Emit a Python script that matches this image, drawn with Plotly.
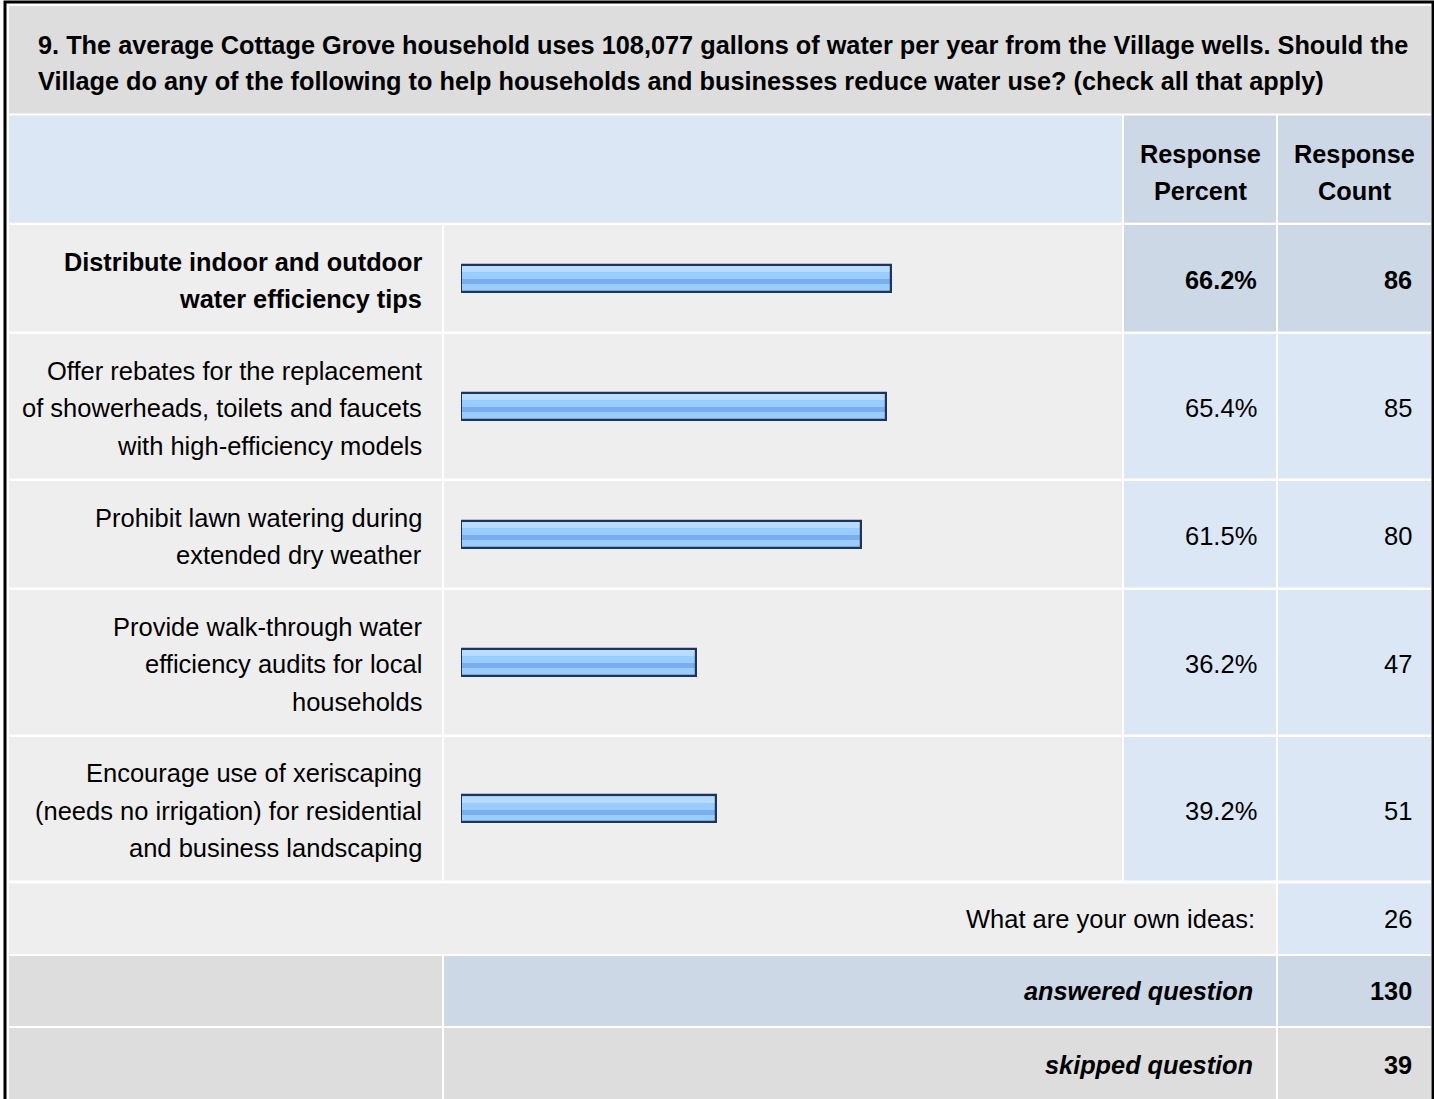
import plotly.graph_objects as go

# ---------------- data ----------------
question = ["9. The average Cottage Grove household uses 108,077 gallons of water per year from the Village wells. Should the",
            "Village do any of the following to help households and businesses reduce water use? (check all that apply)"]
header_pct = ["Response", "Percent"]
header_cnt = ["Response", "Count"]
answer_labels = [
    ["Distribute indoor and outdoor", "water efficiency tips"],
    ["Offer rebates for the replacement", "of showerheads, toilets and faucets", "with high-efficiency models"],
    ["Prohibit lawn watering during", "extended dry weather"],
    ["Provide walk-through water", "efficiency audits for local", "households"],
    ["Encourage use of xeriscaping", "(needs no irrigation) for residential", "and business landscaping"],
]
response_percent = [66.2, 65.4, 61.5, 36.2, 39.2]
response_count = [86, 85, 80, 47, 51]
other_label = "What are your own ideas:"
other_count = 26
answered_label = "answered question"
answered_count = 130
skipped_label = "skipped question"
skipped_count = 39

# ---------------- layout constants ----------------
W, H = 1434, 1099
FONT = "Liberation Sans, Arial, Helvetica, sans-serif"
FS = 25.5
FSB = 25.3
LINE = 37.3
GRAY = "#DDDDDD"
LIGHT = "#EEEEEE"
BLUE1 = "#DCE7F5"
BLUE2 = "#CCD8E6"

C0 = (9, 442)
C1 = (444, 1122)
C2 = (1124, 1276)
C3 = (1278, 1431)

title_row = (6, 113.5)
header_row = (115.5, 222.7)
answer_rows = [(225, 331.5), (334, 478.5), (481, 587.5), (590, 734.5), (737, 880.5)]
other_row = (883.5, 954)
answered_row = (956, 1026)
skipped_row = (1028, 1110)

BAR_X0, BAR_X1 = 461, 1111  # pixel extent of 0..100 %
BAR_T = 29

shapes = []


def cell(x, y, color):
    shapes.append(dict(type="rect", xref="x", yref="y", x0=x[0], x1=x[1], y0=y[0], y1=y[1],
                       fillcolor=color, line=dict(width=0), layer="below"))


cell((C0[0], C3[1]), title_row, GRAY)
cell((C0[0], C1[1]), header_row, BLUE1)
cell(C2, header_row, BLUE2)
cell(C3, header_row, BLUE2)
top = max(response_count)
for i, r in enumerate(answer_rows):
    cell(C0, r, LIGHT)
    cell(C1, r, LIGHT)
    c = BLUE2 if response_count[i] == top else BLUE1
    cell(C2, r, c)
    cell(C3, r, c)
cell((C0[0], C2[1]), other_row, LIGHT)
cell(C3, other_row, BLUE1)
cell(C0, answered_row, GRAY)
cell((C1[0], C2[1]), answered_row, BLUE2)
cell(C3, answered_row, BLUE2)
cell(C0, skipped_row, GRAY)
cell((C1[0], C2[1]), skipped_row, GRAY)
cell(C3, skipped_row, GRAY)

# outer black frame
shapes.append(dict(type="rect", xref="x", yref="y", x0=5, x1=1433, y0=2, y1=1120,
                   line=dict(color="#000000", width=3), fillcolor="rgba(0,0,0,0)", layer="above"))

annotations = []


def txt(s, x, y, anchor="left", bold=False, italic=False):
    size = FSB if bold else FS
    if bold:
        s = "<b>" + s + "</b>"
    if italic:
        s = "<i>" + s + "</i>"
    annotations.append(dict(text=s, x=x, y=y, xref="x", yref="y", xanchor=anchor, yanchor="middle",
                            showarrow=False, font=dict(family=FONT, size=size, color="#000000")))


# title
txt(question[0], 36, 45, bold=True)
txt(question[1], 36, 81, bold=True)
# header
for k, s in enumerate(header_pct):
    txt(s, (C2[0] + C2[1]) / 2, 154 + k * LINE, anchor="center", bold=True)
for k, s in enumerate(header_cnt):
    txt(s, (C3[0] + C3[1]) / 2, 154 + k * LINE, anchor="center", bold=True)

centers = []
for i, r in enumerate(answer_rows):
    cy = (r[0] + r[1]) / 2 + 2
    centers.append((r[0] + r[1]) / 2)
    lines = answer_labels[i]
    b = response_count[i] == top
    n = len(lines)
    for k, s in enumerate(lines):
        txt(s, 424, cy + (k - (n - 1) / 2) * LINE, anchor="right", bold=b)
    txt(f"{response_percent[i]:.1f}%", 1259, cy, anchor="right", bold=b)
    txt(str(response_count[i]), 1414, cy, anchor="right", bold=b)

oy = (other_row[0] + other_row[1]) / 2
txt(other_label, 1257, oy, anchor="right")
txt(str(other_count), 1414, oy, anchor="right")
ay = (answered_row[0] + answered_row[1]) / 2
txt(answered_label, 1255, ay, anchor="right", bold=True, italic=True)
txt(str(answered_count), 1414, ay, anchor="right", bold=True)
sy = 1065
txt(skipped_label, 1255, sy, anchor="right", bold=True, italic=True)
txt(str(skipped_count), 1414, sy, anchor="right", bold=True)

# ---------------- bars ----------------
fig = go.Figure()
common = dict(orientation="h", xaxis="x2", yaxis="y", hoverinfo="skip", showlegend=False)
# base fill
fig.add_trace(go.Bar(x=response_percent, y=centers, width=BAR_T, marker=dict(color="#99CCFF", line=dict(width=0)), **common))
# top highlight
fig.add_trace(go.Bar(x=response_percent, y=[c - 9 for c in centers], width=6,
                     marker=dict(color="#B8DCFF", line=dict(width=0)), **common))
# darker stripe
fig.add_trace(go.Bar(x=response_percent, y=[c + 3.5 for c in centers], width=5,
                     marker=dict(color="#7AAEF0", line=dict(width=0)), **common))
# outline
fig.add_trace(go.Bar(x=response_percent, y=centers, width=BAR_T - 2,
                     marker=dict(color="rgba(0,0,0,0)", line=dict(width=2.2, color="#1C3558")), **common))

fig.update_layout(
    width=W, height=H, margin=dict(l=0, r=0, t=0, b=0),
    paper_bgcolor="#FFFFFF", plot_bgcolor="rgba(0,0,0,0)",
    barmode="overlay", bargap=0,
    xaxis=dict(range=[0, W], visible=False, domain=[0, 1], fixedrange=True),
    xaxis2=dict(range=[0, 100], visible=False, domain=[BAR_X0 / W, BAR_X1 / W],
                anchor="y", fixedrange=True),
    yaxis=dict(range=[H, 0], visible=False, domain=[0, 1], fixedrange=True),
    shapes=shapes, annotations=annotations,
)
fig.write_html("out.html", config={"displayModeBar": False},
               post_script="document.body.style.margin='0';document.body.style.overflow='hidden';")
